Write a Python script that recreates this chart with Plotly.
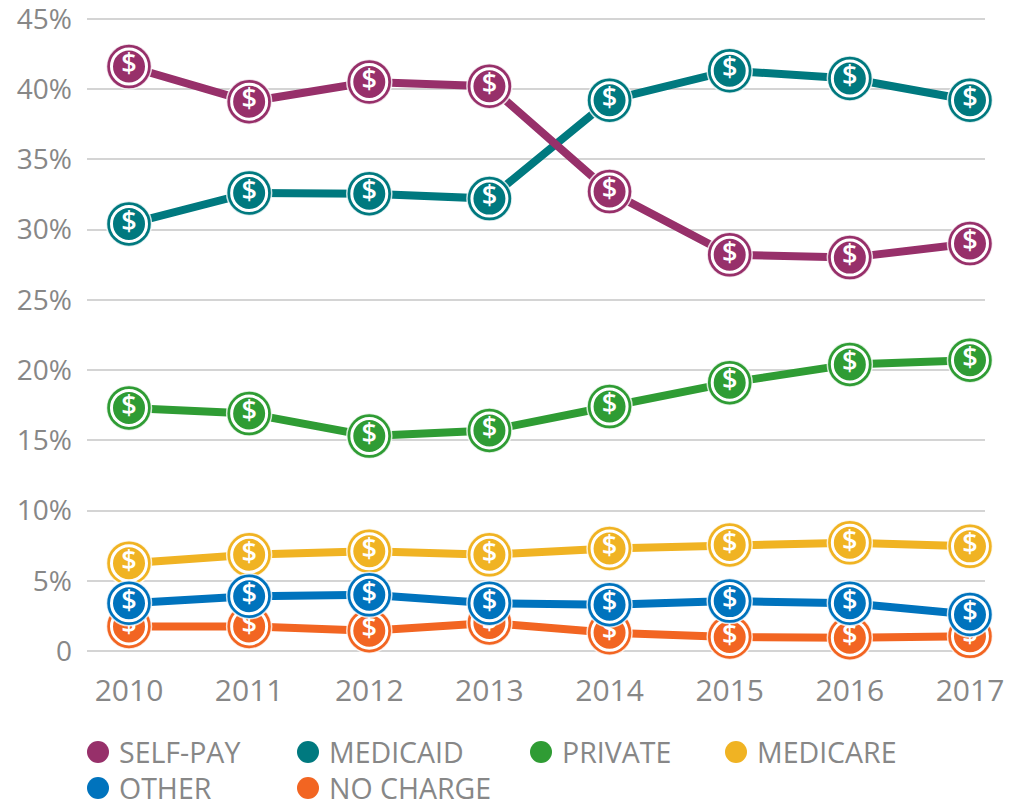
import plotly.graph_objects as go

years = [2010, 2011, 2012, 2013, 2014, 2015, 2016, 2017]
self_pay = [41.6, 39.1, 40.5, 40.2, 32.7, 28.2, 28.0, 29.0]
medicaid = [30.4, 32.6, 32.55, 32.2, 39.2, 41.3, 40.75, 39.2]
private = [17.3, 16.9, 15.3, 15.7, 17.4, 19.1, 20.4, 20.7]
medicare = [6.25, 6.85, 7.1, 6.85, 7.3, 7.55, 7.7, 7.45]
other = [3.4, 3.9, 4.0, 3.4, 3.3, 3.55, 3.4, 2.6]
no_charge = [1.75, 1.75, 1.45, 2.0, 1.3, 1.0, 0.95, 1.05]
y_ticks = [0, 5, 10, 15, 20, 25, 30, 35, 40, 45]
y_labels = ["0", "5%", "10%", "15%", "20%", "25%", "30%", "35%", "40%", "45%"]

PURPLE, TEAL, GREEN, YELLOW, BLUE, ORANGE = "#97306a", "#00797f", "#2f9c34", "#f0b323", "#0073bd", "#f26522"
GREY = "#878787"
FONT = "Open Sans"
OFF = 8
W, H = 1017, 795
def px(X): return (X - OFF) / W
def py(Y): return 1 - (Y - OFF) / H

PER_PCT = 14.05
PER_YEAR = 120.14
Y_ZERO = 651
X_FIRST = 129
Y_PAD = 0.4
X0, X1 = 87, 985

draw = [("NO CHARGE", no_charge, ORANGE), ("MEDICARE", medicare, YELLOW), ("OTHER", other, BLUE),
        ("PRIVATE", private, GREEN), ("MEDICAID", medicaid, TEAL), ("SELF-PAY", self_pay, PURPLE)]

fig = go.Figure()
for name, vals, col in draw:
    fig.add_trace(go.Scatter(x=years, y=vals, mode="lines", name=name, showlegend=False, cliponaxis=False,
                             line=dict(color=col, width=8)))
    fig.add_trace(go.Scatter(x=years, y=vals, mode="markers", showlegend=False, cliponaxis=False,
                             marker=dict(size=45, color=col, line=dict(color="rgba(255,255,255,0.8)", width=1.5))))
    fig.add_trace(go.Scatter(x=years, y=vals, mode="markers+text", showlegend=False, cliponaxis=False,
                             text=["$"] * len(years), textposition="middle center",
                             textfont=dict(family=FONT, size=27, color="white", weight=600),
                             marker=dict(size=35, color=col, line=dict(color="white", width=3))))

legend = [("SELF-PAY", PURPLE, 98, 752), ("MEDICAID", TEAL, 308, 752), ("PRIVATE", GREEN, 541, 752),
          ("MEDICARE", YELLOW, 736, 752), ("OTHER", BLUE, 98, 788), ("NO CHARGE", ORANGE, 308, 788)]
shapes, annos = [], []
for label, col, lx, ly in legend:
    r = 11
    shapes.append(dict(type="circle", xref="paper", yref="paper", fillcolor=col, line=dict(width=0),
                       x0=px(lx - r), x1=px(lx + r), y0=py(ly + r), y1=py(ly - r)))
    annos.append(dict(text=label, xref="paper", yref="paper", x=px(lx + 19), y=py(ly),
                      xanchor="left", yanchor="middle", showarrow=False,
                      font=dict(family=FONT, size=28.5, color=GREY)))

fig.update_layout(
    width=W, height=H, margin=dict(l=0, r=0, t=0, b=0), paper_bgcolor="white", plot_bgcolor="white",
    font=dict(family=FONT, size=26, color=GREY), showlegend=False, shapes=shapes, annotations=annos,
    xaxis=dict(automargin=False, domain=[px(X0), px(X1)],
               range=[years[0] - (X_FIRST - X0) / PER_YEAR, years[0] + (X1 - X_FIRST) / PER_YEAR],
               tickmode="array", tickvals=years, ticktext=[str(y) for y in years], showgrid=False,
               zeroline=False, showline=False, ticks="", ticklabelstandoff=13,
               tickfont=dict(family=FONT, size=30, color=GREY), ticklabeloverflow="allow"),
    yaxis=dict(automargin=False, domain=[py(Y_ZERO + Y_PAD * PER_PCT), py(Y_ZERO - (45 + Y_PAD) * PER_PCT)],
               range=[-Y_PAD, 45 + Y_PAD], tickmode="array", tickvals=y_ticks, ticktext=y_labels,
               showgrid=True, gridcolor="#d4d4d4", gridwidth=2, zeroline=False,
               ticks="", ticklabelstandoff=14, tickfont=dict(family=FONT, size=28, color=GREY),
               ticklabeloverflow="allow"),
)
fig.write_html("out.html", config={"displayModeBar": False})
